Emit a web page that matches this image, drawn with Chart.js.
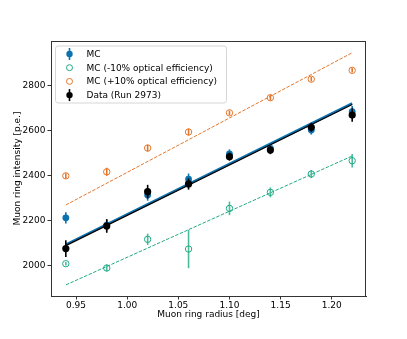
<!DOCTYPE html>
<html>
<head>
<meta charset="utf-8">
<script src="https://cdn.jsdelivr.net/npm/chart.js@4/dist/chart.umd.min.js"></script>
<style>
  html, body { margin: 0; padding: 0; background: #fff; }
  #wrap { width: 407px; height: 339px; }
</style>
</head>
<body>
<div id="wrap"><canvas id="muonChart"></canvas></div>
<script>
// Muon ring intensity vs radius
const radius = [0.94, 0.98, 1.02, 1.06, 1.10, 1.14, 1.18, 1.22];

const mcValues = [2213, 2181, 2314, 2384, 2496, 2520, 2602, 2683];
const mcErr = [25, 25, 25, 25, 20, 20, 20, 25];

const mcMinusValues = [2010, 1991, 2118, 2075, 2255, 2326, 2407, 2466];
const mcMinusErr = [8, 15, 25, 85, 30, 22, 18, 30];

const mcPlusValues = [2399, 2417, 2522, 2593, 2678, 2745, 2827, 2866];
const mcPlusErr = [12, 18, 15, 15, 10, 12, 10, 10];

const dataValues = [2077, 2177, 2329, 2363, 2484, 2513, 2614, 2668];
const dataErr = [37, 30, 30, 25, 18, 18, 20, 30];

// linear fits, evaluated at the ends of the radius range
const fitX = [0.94, 1.22];
const fitMc = [2095, 2720];
const fitData = [2090, 2715];
const fitMinus = [1916, 2487];
const fitPlus = [2270, 2944];

const xTicks = [0.95, 1.00, 1.05, 1.10, 1.15, 1.20];
const yTicks = [2000, 2200, 2400, 2600, 2800];

const legendLabels = ['MC', 'MC (-10% optical efficiency)', 'MC (+10% optical efficiency)', 'Data (Run 2973)'];

const BLUE = '#0b72b0';
const GREEN = '#1faa84';
const ORANGE = '#e3762c';
const BLACK = '#000000';
const FONT = 'DejaVu Sans';

function pts(xs, ys) {
    return xs.map((x, i) => ({ x: x, y: ys[i] }));
}

// errorbars drawn just before their own dataset so markers stay on top
const errorBarPlugin = {
    id: 'errorBars',
    beforeDatasetDraw(chart, args) {
        const ds = chart.data.datasets[args.index];
        if (!ds.err) return;
        const ctx = chart.ctx;
        const xs = chart.scales.x, ys = chart.scales.y;
        ctx.save();
        ctx.strokeStyle = ds.errColor || ds.borderColor;
        ctx.lineWidth = 1.6;
        ds.data.forEach((p, i) => {
            const px = xs.getPixelForValue(p.x);
            ctx.beginPath();
            ctx.moveTo(px, ys.getPixelForValue(p.y - ds.err[i]));
            ctx.lineTo(px, ys.getPixelForValue(p.y + ds.err[i]));
            ctx.stroke();
        });
        ctx.restore();
    }
};

// top/right spines + legend box
const framePlugin = {
    id: 'frame',
    afterDraw(chart) {
        const ctx = chart.ctx;
        const a = chart.chartArea;
        ctx.save();
        ctx.strokeStyle = '#333';
        ctx.lineWidth = 1;
        ctx.strokeRect(a.left + 0.5, a.top + 0.5, a.right - a.left - 1, a.bottom - a.top);

        // legend
        const lx = a.left + 4.5, ly = a.top + 5, lw = 171, lh = 57;
        ctx.fillStyle = 'rgba(255,255,255,0.85)';
        ctx.strokeStyle = '#d6d6d6';
        ctx.lineWidth = 1;
        ctx.beginPath();
        ctx.roundRect(lx, ly, lw, lh, 2.5);
        ctx.fill();
        ctx.stroke();

        const styles = [
            { c: BLUE, fill: true, bar: true },
            { c: GREEN, fill: false, bar: false },
            { c: ORANGE, fill: false, bar: false },
            { c: BLACK, fill: true, bar: true }
        ];
        ctx.font = '9px "' + FONT + '"';
        ctx.textBaseline = 'middle';
        styles.forEach((s, i) => {
            const cy = ly + 8 + i * 13.7;
            const cx = lx + 14;
            if (s.bar) {
                ctx.strokeStyle = s.c;
                ctx.lineWidth = 1.6;
                ctx.beginPath();
                ctx.moveTo(cx, cy - 6);
                ctx.lineTo(cx, cy + 6);
                ctx.stroke();
            }
            ctx.beginPath();
            ctx.arc(cx, cy, s.fill ? 3.2 : 3, 0, Math.PI * 2);
            if (s.fill) {
                ctx.fillStyle = s.c;
                ctx.fill();
            } else {
                ctx.strokeStyle = s.c;
                ctx.lineWidth = 1;
                ctx.stroke();
            }
            ctx.fillStyle = '#000';
            ctx.fillText(legendLabels[i], lx + 31, cy + 0.5);
        });
        ctx.restore();
    }
};

const ctx = document.getElementById('muonChart').getContext('2d');

new Chart(ctx, {
    type: 'scatter',
    data: {
        datasets: [
            {
                label: legendLabels[3], data: pts(radius, dataValues), err: dataErr,
                backgroundColor: BLACK, borderColor: BLACK, pointRadius: 3.6, pointBorderWidth: 0, order: 0
            },
            {
                label: 'Data fit', data: pts(fitX, fitData), showLine: true,
                borderColor: BLACK, borderWidth: 1.3, pointRadius: 0, order: 1
            },
            {
                label: legendLabels[0], data: pts(radius, mcValues), err: mcErr,
                backgroundColor: BLUE, borderColor: BLUE, pointRadius: 3.4, pointBorderWidth: 0, order: 2
            },
            {
                label: 'MC fit', data: pts(fitX, fitMc), showLine: true,
                borderColor: BLUE, borderWidth: 2.4, pointRadius: 0, order: 3
            },
            {
                label: legendLabels[1], data: pts(radius, mcMinusValues), err: mcMinusErr, errColor: 'rgba(31,170,132,0.8)',
                backgroundColor: 'rgba(0,0,0,0)', borderColor: GREEN, pointRadius: 3.2, pointBorderWidth: 1, order: 4
            },
            {
                label: 'MC -10% fit', data: pts(fitX, fitMinus), showLine: true, borderDash: [3.5, 1.5],
                borderColor: GREEN, borderWidth: 1, pointRadius: 0, order: 5
            },
            {
                label: legendLabels[2], data: pts(radius, mcPlusValues), err: mcPlusErr,
                backgroundColor: 'rgba(0,0,0,0)', borderColor: ORANGE, pointRadius: 3.2, pointBorderWidth: 1, order: 6
            },
            {
                label: 'MC +10% fit', data: pts(fitX, fitPlus), showLine: true, borderDash: [3.5, 1.5],
                borderColor: ORANGE, borderWidth: 1, pointRadius: 0, order: 7
            }
        ]
    },
    options: {
        responsive: true,
        maintainAspectRatio: false,
        animation: false,
        layout: { padding: { top: 41, right: 41, bottom: 0, left: 0 } },
        plugins: {
            legend: { display: false },
            tooltip: { enabled: false }
        },
        elements: { line: { tension: 0 } },
        scales: {
            x: {
                type: 'linear',
                min: 0.9255,
                max: 1.2335,
                afterBuildTicks: axis => { axis.ticks = xTicks.map(v => ({ value: v })); },
                afterFit: axis => { axis.height = 43; },
                ticks: {
                    color: '#000', font: { family: FONT, size: 9 }, padding: 1,
                    maxRotation: 0, callback: v => v.toFixed(2)
                },
                grid: { drawOnChartArea: false, drawTicks: true, tickLength: 3.5, tickColor: '#333' },
                border: { display: true, color: '#333' },
                title: {
                    display: true, text: 'Muon ring radius [deg]', color: '#000',
                    font: { family: FONT, size: 9 }, padding: { top: 0, bottom: 19 }
                }
            },
            y: {
                type: 'linear',
                min: 1867,
                max: 2996,
                afterBuildTicks: axis => { axis.ticks = yTicks.map(v => ({ value: v })); },
                afterFit: axis => { axis.width = 51; },
                ticks: {
                    color: '#000', font: { family: FONT, size: 9 }, padding: 2,
                    callback: v => String(v)
                },
                grid: { drawOnChartArea: false, drawTicks: true, tickLength: 3.5, tickColor: '#333' },
                border: { display: true, color: '#333' },
                title: {
                    display: true, text: 'Muon ring intensity [p.e.]', color: '#000',
                    font: { family: FONT, size: 9 }, padding: { top: 12, bottom: 0 }
                }
            }
        }
    },
    plugins: [errorBarPlugin, framePlugin]
});
</script>
</body>
</html>
